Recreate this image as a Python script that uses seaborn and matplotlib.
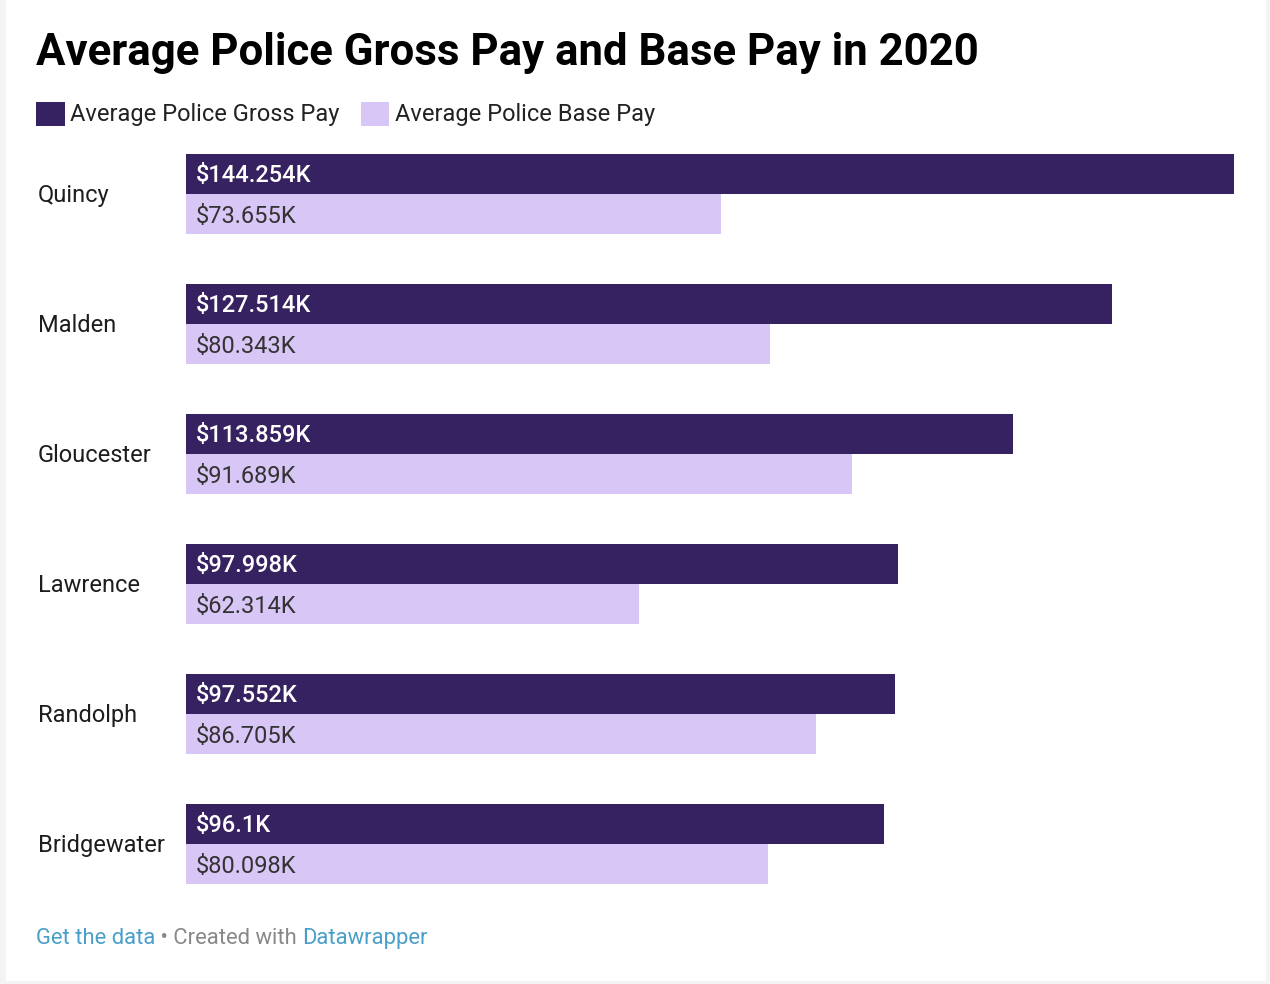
import pandas as pd
import numpy as np
import matplotlib.pyplot as plt
import seaborn as sns
from matplotlib.patches import Patch, Rectangle

cities = ['Quincy', 'Malden', 'Gloucester', 'Lawrence', 'Randolph', 'Bridgewater']
gross_pay = [144.254, 127.514, 113.859, 97.998, 97.552, 96.1]
base_pay = [73.655, 80.343, 91.689, 62.314, 86.705, 80.098]
gross_labels = ['$144.254K', '$127.514K', '$113.859K', '$97.998K', '$97.552K', '$96.1K']
base_labels = ['$73.655K', '$80.343K', '$91.689K', '$62.314K', '$86.705K', '$80.098K']
series = ['Average Police Gross Pay', 'Average Police Base Pay']

gross_col = '#372261'
base_col = '#d7c6f6'

df = pd.DataFrame({
    'City': cities * 2,
    'Pay': gross_pay + base_pay,
    'Series': [series[0]] * len(cities) + [series[1]] * len(cities),
})

sns.set_style('white')
plt.rcParams['font.family'] = ['Roboto', 'DejaVu Sans']

W, H = 1270, 984
fig = plt.figure(figsize=(12.7, 9.84), dpi=100, facecolor='#f4f4f4')
# white card with thin grey frame on left / right / bottom
fig.patches.append(Rectangle((6 / W, 3 / H), 1260 / W, 981 / H, transform=fig.transFigure,
                             facecolor='white', edgecolor='none', zorder=-10))

ax = fig.add_axes([186 / W, 1 - 909 / H, 1048 / W, 780 / H])
ax.patch.set_alpha(0)

sns.barplot(data=df, y='City', x='Pay', hue='Series', orient='h',
            palette=[gross_col, base_col], width=0.615, saturation=1, linewidth=0,
            order=cities, hue_order=series, legend=False, ax=ax)

ax.set_xlim(0, max(gross_pay))
ax.set_ylim(5.5, -0.5)
ax.set_xlabel('')
ax.set_ylabel('')
ax.set_xticks([])
ax.set_yticks([])
for s in ax.spines.values():
    s.set_visible(False)

fs = 17
off = 0.0655  # baseline offset from bar centre (half cap height)
for i in range(len(cities)):
    ax.text(1.37, i - 0.154 + off, gross_labels[i], color='white', fontsize=fs,
            va='baseline', ha='left', fontweight='medium')
    ax.text(1.37, i + 0.154 + off, base_labels[i], color='#333333', fontsize=fs,
            va='baseline', ha='left')
    fig.text(38 / W, 1 - (194 + 130 * i + 8) / H, cities[i], fontsize=fs,
             color='#1d1d1d', va='baseline', ha='left')

fig.text(36 / W, 1 - 65 / H, 'Average Police Gross Pay and Base Pay in 2020',
         fontsize=31.5, fontweight='bold', color='black', va='baseline', ha='left')

handles = [Patch(facecolor=gross_col, edgecolor='none'), Patch(facecolor=base_col, edgecolor='none')]
fig.legend(handles, series, loc='center left', bbox_to_anchor=(27 / W, 1 - 114 / H),
           ncol=2, frameon=False, fontsize=fs, handlelength=1.19, handleheight=1.19,
           handletextpad=0.25, columnspacing=0.9, labelcolor='#222222', borderaxespad=0)

fy = 1 - 944 / H
t1 = fig.text(36 / W, fy, 'Get the data', fontsize=15.8, color='#4a9fca',
              va='baseline', ha='left')
fig.canvas.draw()
bb = t1.get_window_extent()
t2 = fig.text(bb.x1 / W, fy, ' \u2022 Created with ', fontsize=15.8,
              color='#888888', va='baseline', ha='left')
fig.canvas.draw()
bb = t2.get_window_extent()
fig.text(bb.x1 / W, fy, 'Datawrapper', fontsize=15.8, color='#4a9fca',
         va='baseline', ha='left')

fig.savefig('out.png', dpi=100, facecolor=fig.get_facecolor())
